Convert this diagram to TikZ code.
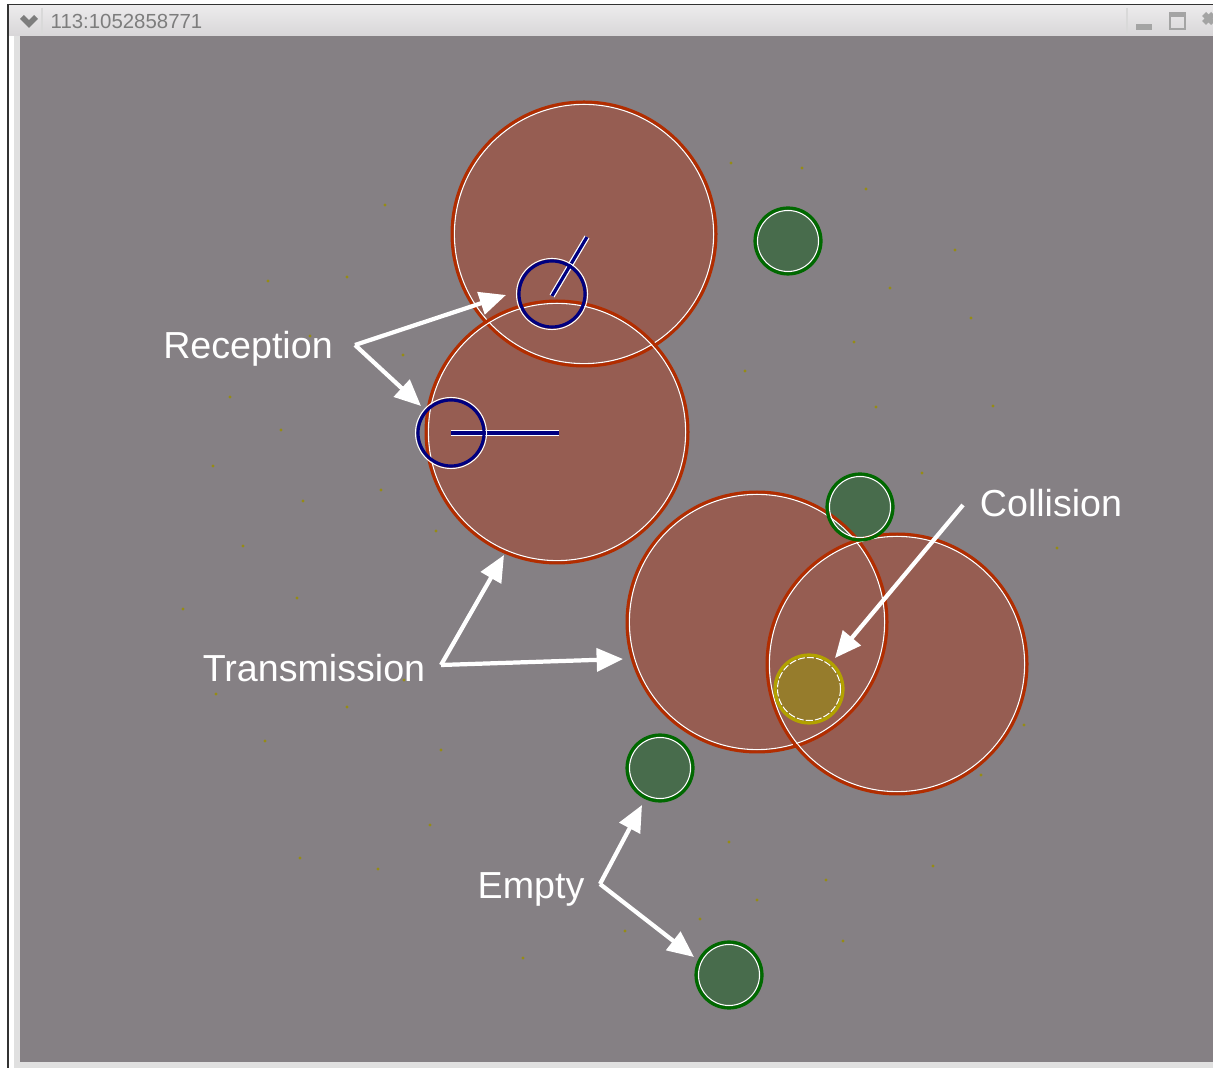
\documentclass[tikz,border=0pt]{standalone}
\usepackage{fontspec}
\setmainfont{Liberation Sans}
\usetikzlibrary{arrows.meta}

\definecolor{canvas}{RGB}{133,128,132}
\definecolor{bartop}{RGB}{236,235,236}
\definecolor{barbottom}{RGB}{216,214,216}
\definecolor{bartext}{RGB}{125,125,125}
\definecolor{rangered}{RGB}{178,45,0}
\definecolor{rangefill}{RGB}{150,93,82}
\definecolor{idlegreen}{RGB}{0,105,0}
\definecolor{idlefill}{RGB}{72,108,76}
\definecolor{clashyellow}{RGB}{178,162,0}
\definecolor{clashfill}{RGB}{150,124,44}
\definecolor{rxblue}{RGB}{0,0,128}
\definecolor{speck}{RGB}{150,140,20}

\tikzset{
  label text/.style={text=white, font=\fontsize{10.7}{12}\selectfont},
  pointer/.style={draw=white, line width=1.2pt, line join=round,
    -{Triangle[length=7.5pt,width=6.5pt]}},
  halo/.style={draw=white, line width=0.3pt},
}

\begin{document}
\begin{tikzpicture}[x=0.01cm,y=-0.01cm]

  \useasboundingbox (0,0) rectangle (1213,1068);
  \fill[white] (0,0) rectangle (1213,1068);

  % window frame
  \draw[black!80, line width=0.6pt] (8,1068) -- (8,5) -- (1213,5);
  \shade[top color=bartop, bottom color=barbottom] (9,6) rectangle (1213,36);
  \draw[black!15] (42,8) -- (42,35);
  \draw[black!15] (1127,8) -- (1127,35);
  \fill[black!12] (14,36) rectangle (20,1062);
  \fill[black!12] (14,1062) rectangle (1213,1068);
  \fill[canvas] (20,36) rectangle (1213,1062);

  \draw[bartext, line width=1.6pt] (22,17) -- (29,24) -- (36,17);
  \node[anchor=west, inner sep=0, text=bartext, font=\fontsize{5.8}{7}\selectfont]
    (title) at (50,21) {113:1052858771};
  \fill[bartext!70] (1136,24) rectangle (1152,30);
  \draw[bartext!70, line width=0.6pt] (1170,13) rectangle (1185,29);
  \fill[bartext!70] (1170,13) rectangle (1185,17);
  \draw[bartext!70, line width=1.6pt] (1204,14) -- (1213,23) (1204,23) -- (1213,14);

  % stray dots
  \foreach \p in {(385,205),(347,277),(268,281),(310,336),(403,355),(401,392),
      (230,397),(213,466),(281,430),(381,490),(303,501),(243,546),(183,609),
      (297,598),(436,531),(731,163),(802,168),(866,189),(955,250),(890,288),
      (971,318),(854,342),(745,371),(876,407),(993,406),(922,473),(1057,548),
      (1024,725),(981,775),(870,760),(826,880),(933,866),(729,842),(843,941),
      (700,919),(625,931),(523,958),(441,750),(378,869),(300,858),(430,825),
      (265,741),(216,694),(347,707),(404,680),(589,245),(757,900)}
    \fill[speck] \p circle[radius=1.6];

  % fills
  \foreach \cx/\cy/\r in {584/234/132, 557/432/131, 757/622/130, 897/664/130}
    \fill[rangefill] (\cx,\cy) circle[radius=\r];
  \foreach \cx/\cy in {788/241, 860/507, 660/768, 729/975}
    \fill[idlefill] (\cx,\cy) circle[radius=33];
  \fill[clashfill] (809,689) circle[radius=34];

  % outlines
  \foreach \cx/\cy/\r in {584/234/132, 557/432/131, 757/622/130, 897/664/130} {
    \draw[halo] (\cx,\cy) circle[radius=\r-2.4];
    \draw[rangered, line width=0.85pt] (\cx,\cy) circle[radius=\r];
  }
  \foreach \cx/\cy in {788/241, 860/507, 660/768, 729/975} {
    \draw[halo] (\cx,\cy) circle[radius=30.5];
    \draw[idlegreen, line width=0.9pt] (\cx,\cy) circle[radius=33];
  }
  \draw[halo, dash pattern=on 2pt off 0.6pt] (809,689) circle[radius=31.5];
  \draw[clashyellow, line width=0.9pt] (809,689) circle[radius=34];

  \draw[white, line width=1.6pt] (552,296) -- (587,237);
  \draw[white, line width=1.6pt] (451,433) -- (559,433);
  \draw[rxblue, line width=0.9pt] (552,296) -- (587,237);
  \draw[rxblue, line width=0.9pt] (451,433) -- (559,433);
  \draw[halo] (552,294) circle[radius=35.5];
  \draw[halo] (451,433) circle[radius=35.5];
  \draw[rxblue, line width=0.9pt] (552,294) circle[radius=33];
  \draw[rxblue, line width=0.9pt] (451,433) circle[radius=33];

  % labels and pointers
  \node[label text] (reception) at (248,349) {Reception};
  \node[label text] (transmission) at (314,668) {Transmission};
  \node[label text] (collision) at (1051,503) {Collision};
  \node[label text] (empty) at (531,889) {Empty};

  \coordinate (rx fork) at (355,345);
  \coordinate (rx upper) at (506,295);
  \coordinate (rx lower) at (421,406);
  \coordinate (tx fork) at (441,665);
  \coordinate (tx upper) at (504,555);
  \coordinate (tx right) at (623,659);
  \coordinate (cl start) at (963,505);
  \coordinate (cl end) at (835,658);
  \coordinate (em fork) at (600,884);
  \coordinate (em upper) at (642,805);
  \coordinate (em lower) at (694,957);

  \draw[pointer] (rx fork) -- (rx upper);
  \draw[pointer] (rx fork) -- (rx lower);
  \draw[pointer] (tx fork) -- (tx upper);
  \draw[pointer] (tx fork) -- (tx right);
  \draw[pointer] (cl start) -- (cl end);
  \draw[pointer] (em fork) -- (em upper);
  \draw[pointer] (em fork) -- (em lower);

\end{tikzpicture}
\end{document}
